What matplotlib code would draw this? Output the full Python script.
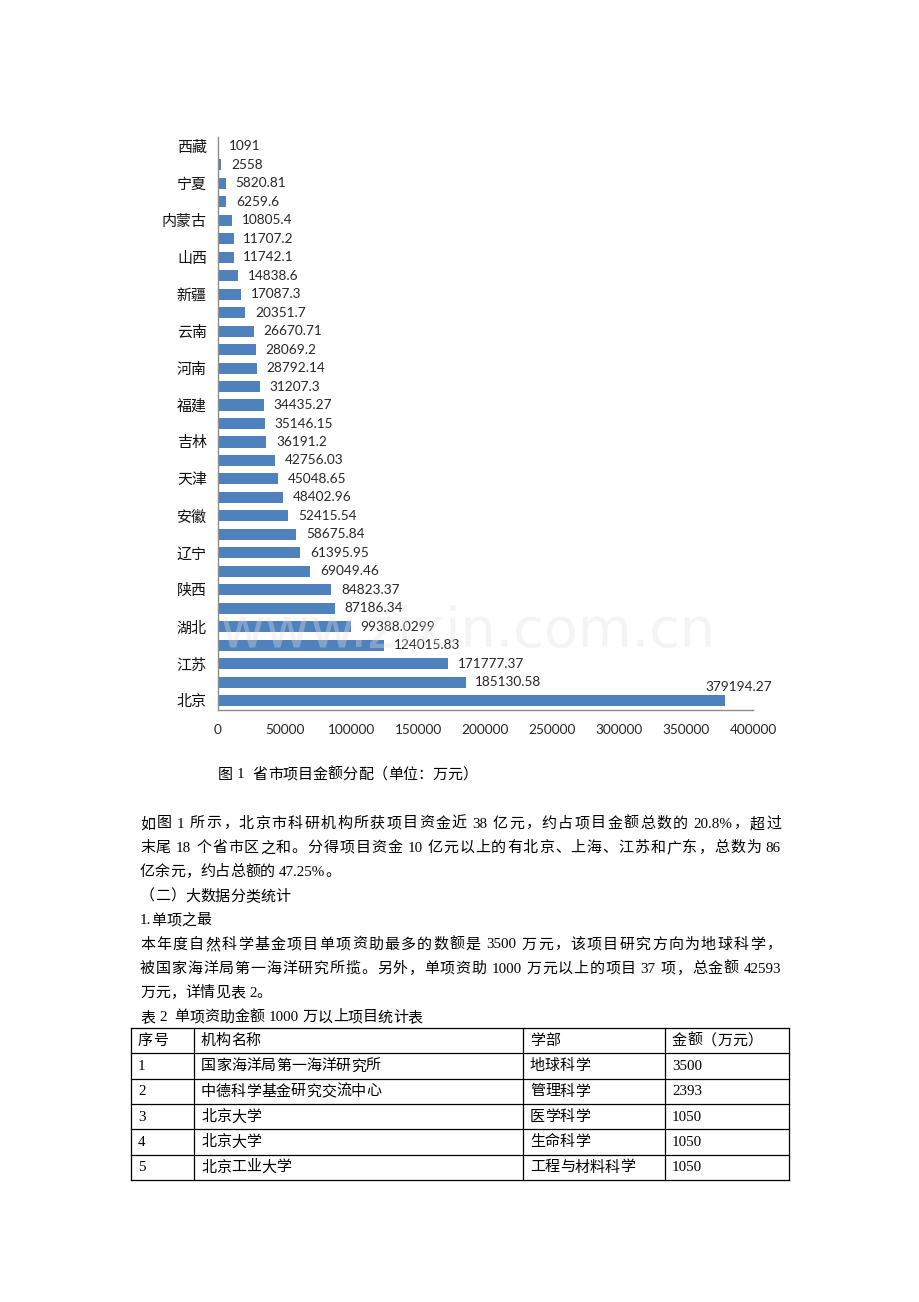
import re

import matplotlib

matplotlib.use("Agg")
import matplotlib.pyplot as plt
from matplotlib.lines import Line2D

# ---- chart data (top to bottom, as drawn) ----
provinces = ["西藏", "", "宁夏", "", "内蒙古", "", "山西", "", "新疆", "",
             "云南", "", "河南", "", "福建", "", "吉林", "", "天津", "",
             "安徽", "", "辽宁", "", "陕西", "", "湖北", "", "江苏", "", "北京"]
amounts = [1091, 2558, 5820.81, 6259.6, 10805.4, 11707.2, 11742.1, 14838.6,
           17087.3, 20351.7, 26670.71, 28069.2, 28792.14, 31207.3, 34435.27,
           35146.15, 36191.2, 42756.03, 45048.65, 48402.96, 52415.54,
           58675.84, 61395.95, 69049.46, 84823.37, 87186.34, 99388.0299,
           124015.83, 171777.37, 185130.58, 379194.27]
x_ticks = [0, 50000, 100000, 150000, 200000, 250000, 300000, 350000, 400000]

caption = "图 1  省市项目金额分配（单位：万元）"

# ---- body text ----
para_lines = [
    ("如图 1 所示，北京市科研机构所获项目资金近 38 亿元，约占项目金额总数的 20.8%，超过", True),
    ("末尾 18 个省市区之和。分得项目资金 10 亿元以上的有北京、上海、江苏和广东，总数为 86", True),
    ("亿余元，约占总额的 47.25%。", False),
    ("（二）大数据分类统计", False),
    ("1.单项之最", False),
    ("本年度自然科学基金项目单项资助最多的数额是 3500 万元，该项目研究方向为地球科学，", True),
    ("被国家海洋局第一海洋研究所揽。另外，单项资助 1000 万元以上的项目 37 项，总金额 42593", True),
    ("万元，详情见表 2。", False),
    ("表 2  单项资助金额 1000 万以上项目统计表", False),
]

# ---- table ----
table_header = ["序号", "机构名称", "学部", "金额（万元）"]
table_rows = [
    ["1", "国家海洋局第一海洋研究所", "地球科学", "3500"],
    ["2", "中德科学基金研究交流中心", "管理科学", "2393"],
    ["3", "北京大学", "医学科学", "1050"],
    ["4", "北京大学", "生命科学", "1050"],
    ["5", "北京工业大学", "工程与材料科学", "1050"],
]

W, H = 920, 1302
BAR_BLUE = "#4F81BD"
AXIS_GREY = "#8C8C8C"
LABEL_INK = "#262626"
SERIF = ["Liberation Serif", "Noto Sans CJK SC"]
CJK = ["Noto Sans CJK SC", "DejaVu Sans"]
BODY_PT = 10.8

fig = plt.figure(figsize=(W / 100, H / 100), dpi=100)
fig.patch.set_facecolor("white")

# ---- bar chart ----
ax = fig.add_axes([218 / W, 1 - 710 / H, 535 / W, 573 / H])
ypos = list(range(len(amounts)))
ax.barh(ypos, amounts, height=0.6, color=BAR_BLUE, zorder=2)
ax.set_xlim(0, 400000)
ax.set_ylim(len(amounts) - 0.5, -0.5)
ax.set_xticks(x_ticks)
ax.set_xticklabels([str(t) for t in x_ticks], family="Lato", fontsize=9.8,
                   color=LABEL_INK)
ax.set_yticks(ypos)
ax.set_yticklabels(provinces, family=CJK, fontsize=10.8, color="#111111")
ax.tick_params(axis="x", length=0, pad=10)
ax.tick_params(axis="y", length=0, pad=8)
for side in ("top", "right"):
    ax.spines[side].set_visible(False)
for side in ("left", "bottom"):
    ax.spines[side].set_color(AXIS_GREY)
    ax.spines[side].set_linewidth(1.0)

for i, v in enumerate(amounts):
    if i == len(amounts) - 1:
        # the longest bar gets its label above the bar end
        ax.annotate(str(v), (v, i), xytext=(10, 10), textcoords="offset points",
                    ha="center", va="center", family="Lato", fontsize=9.8,
                    color=LABEL_INK)
    else:
        ax.annotate(str(v), (v, i), xytext=(7, 0), textcoords="offset points",
                    ha="left", va="center", family="Lato", fontsize=9.8,
                    color=LABEL_INK)

# ---- page overlay in pixel coordinates ----
page = fig.add_axes([0, 0, 1, 1])
page.set_xlim(0, W)
page.set_ylim(H, 0)
page.axis("off")

# faint site watermark that sits over the chart in the scan
page.text(468, 632, "www.zixin.com.cn", fontsize=40, family="DejaVu Sans",
          color="#e2e2e2", alpha=0.35, ha="center", va="center", zorder=0)

renderer = fig.canvas.get_renderer()


def is_wide(ch):
    return ord(ch) >= 0x2E80


def put_line(text, x0, y, x1=None, size=BODY_PT):
    """Lay out a line token by token; full-width glyphs take one em,
    latin runs their measured width. With x1 the line is justified,
    the slack going between glyphs rather than into the spaces."""
    em = size * 100 / 72
    tokens = re.findall(r"[A-Za-z0-9.%]+| |.", text)
    arts, widths = [], []
    for t in tokens:
        if t == " ":
            arts.append(None)
            widths.append(em * 0.27)
            continue
        a = page.text(0, y, t, family=SERIF, fontsize=size, color="black",
                      ha="left", va="center")
        arts.append(a)
        if len(t) == 1 and is_wide(t):
            widths.append(em)
        else:
            widths.append(a.get_window_extent(renderer).width)
    stretch = [i for i, t in enumerate(tokens[:-1]) if t != " "]
    extra = 0.0
    if x1 is not None and stretch:
        extra = (x1 - x0 - sum(widths)) / len(stretch)
    x = x0
    for i, (a, w) in enumerate(zip(arts, widths)):
        if a is not None:
            a.set_x(x)
        x += w + (extra if i in stretch else 0.0)


put_line(caption, 218, 775)

for k, (line, justified) in enumerate(para_lines):
    put_line(line, 140, 824 + 24.2 * k, 781 if justified else None)

# table grid
col_x = [131, 194, 523, 665, 789]
row_y = [1028 + 25.3 * r for r in range(len(table_rows) + 2)]
for xx in col_x:
    page.add_line(Line2D([xx, xx], [row_y[0], row_y[-1]], color="black", lw=0.9))
for yy in row_y:
    page.add_line(Line2D([col_x[0], col_x[-1]], [yy, yy], color="black", lw=0.9))

for r, row in enumerate([table_header] + table_rows):
    yc = (row_y[r] + row_y[r + 1]) / 2 + 0.5
    for c, cell in enumerate(row):
        put_line(cell, col_x[c] + 7, yc)

fig.savefig("out.png", dpi=100, facecolor="white")
